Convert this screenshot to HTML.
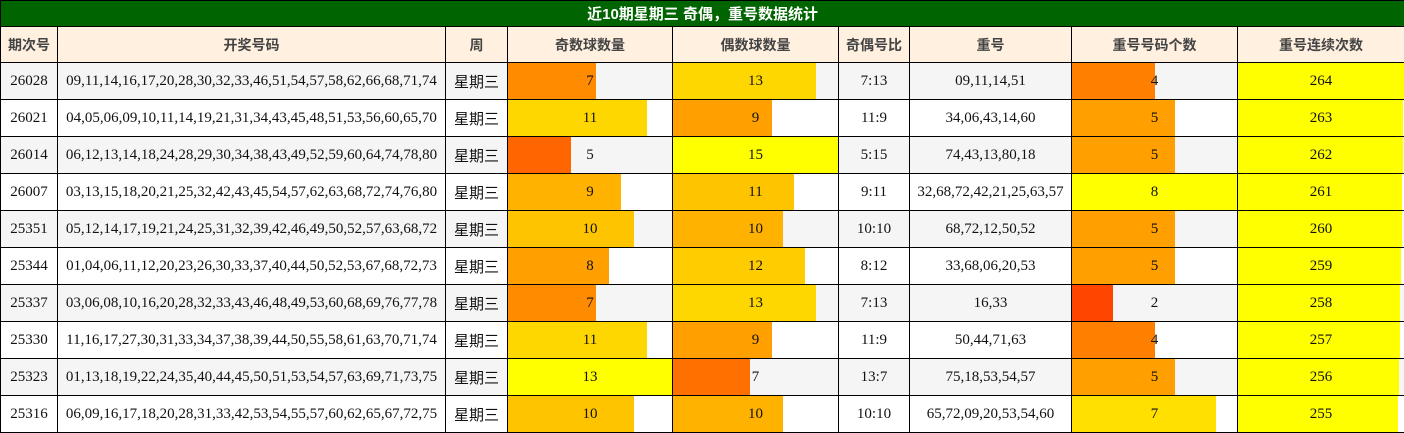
<!DOCTYPE html><html><head><meta charset="utf-8"><style>
body{margin:0;width:1404px;height:432px;overflow:hidden;background:#fff}
table{border-collapse:collapse;table-layout:fixed;width:1404px}
td{border:1px solid #000;padding:0;text-align:center;font-family:"Liberation Serif","Noto Serif CJK SC",serif;font-size:15px;color:#111;height:36px;white-space:nowrap;overflow:hidden}
.t td{background:#006400;color:#fff;font-family:"Liberation Sans","Noto Sans CJK SC",sans-serif;font-weight:bold;font-size:15px;height:25px}
.h td{background:#fff0e0;color:#444;font-family:"Liberation Sans","Noto Sans CJK SC",sans-serif;font-weight:bold;font-size:14px;height:35px}
tr.g td{background:#f5f5f5}
.w{font-family:"Liberation Sans","Noto Sans CJK SC",sans-serif;font-size:15px}
.b{position:relative;height:36px}
.b i{position:absolute;left:0;top:0;bottom:0}
.b span{position:relative;line-height:36px}
</style></head><body>
<table>
<colgroup><col style="width:57px"><col style="width:388px"><col style="width:62px"><col style="width:165px"><col style="width:166px"><col style="width:71px"><col style="width:162px"><col style="width:166px"><col style="width:167px"></colgroup>
<tr class="t"><td colspan="9">近10期星期三 奇偶，重号数据统计</td></tr>
<tr class="h"><td>期次号</td><td>开奖号码</td><td>周</td><td>奇数球数量</td><td>偶数球数量</td><td>奇偶号比</td><td>重号</td><td>重号号码个数</td><td>重号连续次数</td></tr>
<tr class="g"><td>26028</td><td>09,11,14,16,17,20,28,30,32,33,46,51,54,57,58,62,66,68,71,74</td><td class="w">星期三</td><td><div class="b"><i style="width:53.8%;background:#ff8c00"></i><span>7</span></div></td><td><div class="b"><i style="width:86.7%;background:#ffd700"></i><span>13</span></div></td><td>7:13</td><td>09,11,14,51</td><td><div class="b"><i style="width:50%;background:#ff8000"></i><span>4</span></div></td><td><div class="b"><i style="width:100%;background:#ffff00"></i><span>264</span></div></td></tr>
<tr><td>26021</td><td>04,05,06,09,10,11,14,19,21,31,34,43,45,48,51,53,56,60,65,70</td><td class="w">星期三</td><td><div class="b"><i style="width:84.6%;background:#ffd700"></i><span>11</span></div></td><td><div class="b"><i style="width:60%;background:#ffa000"></i><span>9</span></div></td><td>11:9</td><td>34,06,43,14,60</td><td><div class="b"><i style="width:62.5%;background:#ffa000"></i><span>5</span></div></td><td><div class="b"><i style="width:99.6%;background:#ffff00"></i><span>263</span></div></td></tr>
<tr class="g"><td>26014</td><td>06,12,13,14,18,24,28,29,30,34,38,43,49,52,59,60,64,74,78,80</td><td class="w">星期三</td><td><div class="b"><i style="width:38.5%;background:#ff6600"></i><span>5</span></div></td><td><div class="b"><i style="width:100%;background:#ffff00"></i><span>15</span></div></td><td>5:15</td><td>74,43,13,80,18</td><td><div class="b"><i style="width:62.5%;background:#ffa000"></i><span>5</span></div></td><td><div class="b"><i style="width:99.2%;background:#ffff00"></i><span>262</span></div></td></tr>
<tr><td>26007</td><td>03,13,15,18,20,21,25,32,42,43,45,54,57,62,63,68,72,74,76,80</td><td class="w">星期三</td><td><div class="b"><i style="width:69.2%;background:#ffb300"></i><span>9</span></div></td><td><div class="b"><i style="width:73.3%;background:#ffc400"></i><span>11</span></div></td><td>9:11</td><td>32,68,72,42,21,25,63,57</td><td><div class="b"><i style="width:100%;background:#ffff00"></i><span>8</span></div></td><td><div class="b"><i style="width:98.9%;background:#ffff00"></i><span>261</span></div></td></tr>
<tr class="g"><td>25351</td><td>05,12,14,17,19,21,24,25,31,32,39,42,46,49,50,52,57,63,68,72</td><td class="w">星期三</td><td><div class="b"><i style="width:76.9%;background:#ffc400"></i><span>10</span></div></td><td><div class="b"><i style="width:66.7%;background:#ffb300"></i><span>10</span></div></td><td>10:10</td><td>68,72,12,50,52</td><td><div class="b"><i style="width:62.5%;background:#ffa000"></i><span>5</span></div></td><td><div class="b"><i style="width:98.5%;background:#ffff00"></i><span>260</span></div></td></tr>
<tr><td>25344</td><td>01,04,06,11,12,20,23,26,30,33,37,40,44,50,52,53,67,68,72,73</td><td class="w">星期三</td><td><div class="b"><i style="width:61.5%;background:#ffa000"></i><span>8</span></div></td><td><div class="b"><i style="width:80%;background:#ffcc00"></i><span>12</span></div></td><td>8:12</td><td>33,68,06,20,53</td><td><div class="b"><i style="width:62.5%;background:#ffa000"></i><span>5</span></div></td><td><div class="b"><i style="width:98.1%;background:#ffff00"></i><span>259</span></div></td></tr>
<tr class="g"><td>25337</td><td>03,06,08,10,16,20,28,32,33,43,46,48,49,53,60,68,69,76,77,78</td><td class="w">星期三</td><td><div class="b"><i style="width:53.8%;background:#ff8c00"></i><span>7</span></div></td><td><div class="b"><i style="width:86.7%;background:#ffd700"></i><span>13</span></div></td><td>7:13</td><td>16,33</td><td><div class="b"><i style="width:25%;background:#ff4500"></i><span>2</span></div></td><td><div class="b"><i style="width:97.7%;background:#ffff00"></i><span>258</span></div></td></tr>
<tr><td>25330</td><td>11,16,17,27,30,31,33,34,37,38,39,44,50,55,58,61,63,70,71,74</td><td class="w">星期三</td><td><div class="b"><i style="width:84.6%;background:#ffd700"></i><span>11</span></div></td><td><div class="b"><i style="width:60%;background:#ffa000"></i><span>9</span></div></td><td>11:9</td><td>50,44,71,63</td><td><div class="b"><i style="width:50%;background:#ff8000"></i><span>4</span></div></td><td><div class="b"><i style="width:97.3%;background:#ffff00"></i><span>257</span></div></td></tr>
<tr class="g"><td>25323</td><td>01,13,18,19,22,24,35,40,44,45,50,51,53,54,57,63,69,71,73,75</td><td class="w">星期三</td><td><div class="b"><i style="width:100%;background:#ffff00"></i><span>13</span></div></td><td><div class="b"><i style="width:46.7%;background:#ff7000"></i><span>7</span></div></td><td>13:7</td><td>75,18,53,54,57</td><td><div class="b"><i style="width:62.5%;background:#ffa000"></i><span>5</span></div></td><td><div class="b"><i style="width:97%;background:#ffff00"></i><span>256</span></div></td></tr>
<tr><td>25316</td><td>06,09,16,17,18,20,28,31,33,42,53,54,55,57,60,62,65,67,72,75</td><td class="w">星期三</td><td><div class="b"><i style="width:76.9%;background:#ffc400"></i><span>10</span></div></td><td><div class="b"><i style="width:66.7%;background:#ffb300"></i><span>10</span></div></td><td>10:10</td><td>65,72,09,20,53,54,60</td><td><div class="b"><i style="width:87.5%;background:#ffe000"></i><span>7</span></div></td><td><div class="b"><i style="width:96.6%;background:#ffff00"></i><span>255</span></div></td></tr>
</table></body></html>
